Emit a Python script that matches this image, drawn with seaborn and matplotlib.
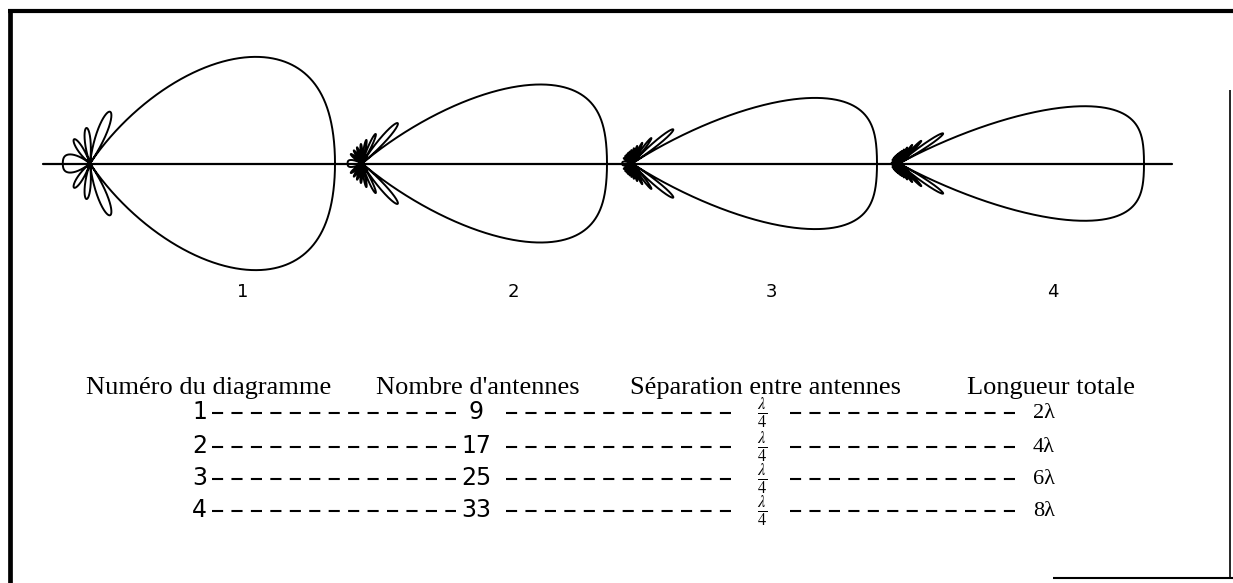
import numpy as np
import pandas as pd
import matplotlib
matplotlib.use("Agg")
import matplotlib.pyplot as plt
import seaborn as sns

# --- data -------------------------------------------------------------
diagram_ids = [1, 2, 3, 4]
n_antennas = [9, 17, 25, 33]
spacing_wavelengths = [0.25, 0.25, 0.25, 0.25]
total_length_labels = ["2λ", "4λ", "6λ", "8λ"]
spacing_label = r"$\frac{\lambda}{4}$"
headers = ["Numéro du diagramme", "Nombre d'antennes",
           "Séparation entre antennes", "Longueur totale"]

# --- layout (pixel coordinates) -----------------------------------------
W, H = 1233, 583
origin_x = [90, 362, 632, 899]
axis_y = 163.5
lobe_radius = 245
pattern_label_x = [243, 513, 771, 1053]
pattern_label_y = 292
header_x = [209, 478, 765, 1051]
header_y = 388
row_y = [412, 446, 478, 510]

sns.set_theme(style="white")
plt.rcParams["lines.scale_dashes"] = False
plt.rcParams["mathtext.fontset"] = "stix"

fig = plt.figure(figsize=(W / 100, H / 100), dpi=100)
ax = fig.add_axes([0, 0, 1, 1])
ax.set_xlim(0, W)
ax.set_ylim(H, 0)
ax.axis("off")


def array_factor(theta, n, d):
    """Normalised array factor of an ordinary end-fire uniform array."""
    psi = 2 * np.pi * d * (np.cos(theta) - 1.0)
    num = np.sin(n * psi / 2)
    den = n * np.sin(psi / 2)
    with np.errstate(invalid="ignore", divide="ignore"):
        af = np.where(np.abs(den) < 1e-12, 1.0, num / den)
    return np.abs(af)


theta = np.linspace(0, 2 * np.pi, 8001)
frames = []
for pid, n, d, x0 in zip(diagram_ids, n_antennas, spacing_wavelengths, origin_x):
    r = array_factor(theta, n, d) * lobe_radius
    frames.append(pd.DataFrame({
        "x": x0 + r * np.cos(theta),
        "y": axis_y - r * np.sin(theta),
        "diagram": pid,
    }))
patterns = pd.concat(frames, ignore_index=True)

# horizontal reference axis through all diagrams
ax.plot([43, 1172], [axis_y, axis_y], color="black", lw=1.6)

for pid in diagram_ids:
    sns.lineplot(data=patterns[patterns["diagram"] == pid], x="x", y="y",
                 sort=False, estimator=None, color="black", lw=1.4, ax=ax)

narrow = ["Liberation Sans Narrow", "DejaVu Sans"]
for pid, lx in zip(diagram_ids, pattern_label_x):
    ax.text(lx, pattern_label_y, str(pid), ha="center", va="center",
            fontsize=13, family=narrow, color="black")

# --- table ---------------------------------------------------------------
for text, hx in zip(headers, header_x):
    ax.text(hx, header_y, text, ha="center", va="center", fontsize=19,
            family="Liberation Serif", color="black")

dash = (0, (8, 6))
for pid, n, lab, y in zip(diagram_ids, n_antennas, total_length_labels, row_y):
    ax.text(207, y, str(pid), ha="right", va="center", fontsize=17,
            family=narrow, color="black")
    ax.plot([212, 456], [y + 1, y + 1], color="black", lw=1.5, linestyle=dash)
    ax.text(476, y, str(n), ha="center", va="center", fontsize=17,
            family=narrow, color="black")
    ax.plot([506, 736], [y + 1, y + 1], color="black", lw=1.5, linestyle=dash)
    ax.text(762, y + 1, spacing_label, ha="center", va="center", fontsize=17,
            color="black")
    ax.plot([790, 1020], [y + 1, y + 1], color="black", lw=1.5, linestyle=dash)
    ax.text(1033, y + 1, lab, ha="left", va="center", fontsize=16,
            family="Liberation Serif", color="black")

# --- frame ---------------------------------------------------------------
ax.plot([8, W], [11, 11], color="black", lw=3.0, solid_capstyle="butt")
ax.plot([10, 10], [9, H], color="black", lw=3.4, solid_capstyle="butt")
ax.plot([1230, 1230], [90, 578], color="black", lw=1.2, solid_capstyle="butt")
ax.plot([1053, W], [578, 578], color="black", lw=1.5, solid_capstyle="butt")

fig.savefig("out.png", dpi=100, facecolor="white")
